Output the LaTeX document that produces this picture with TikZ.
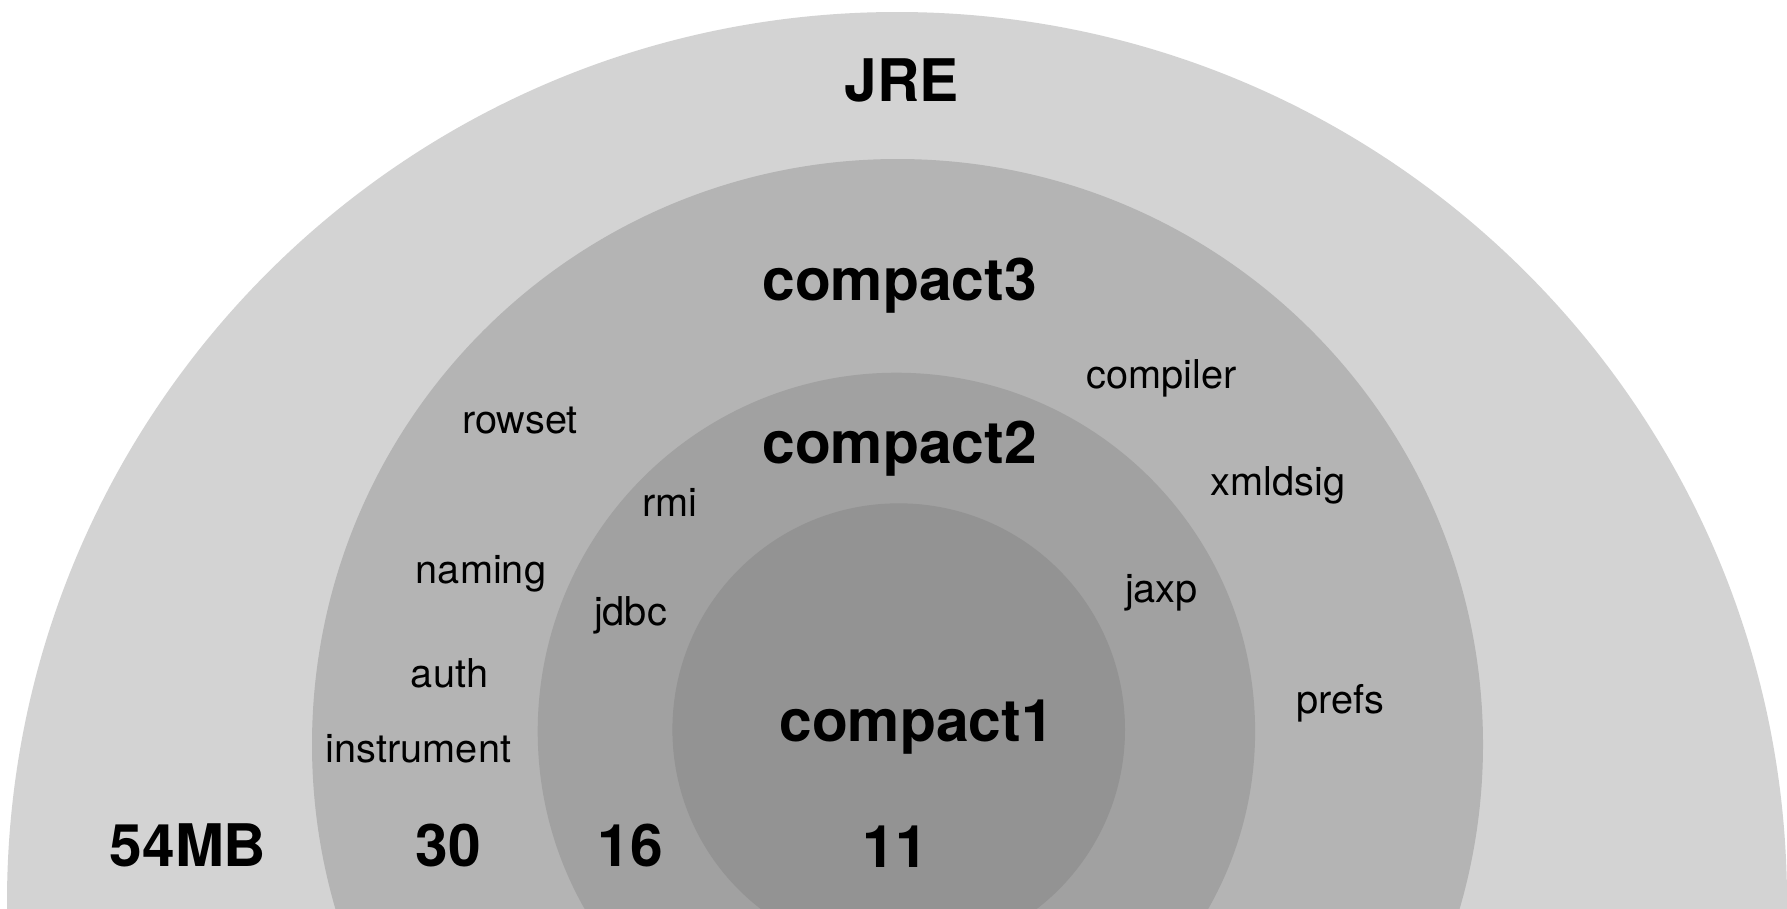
\documentclass[tikz,border=0pt]{standalone}
\usepackage{fontspec}
\setmainfont{TeX Gyre Heros}
\usepackage{tikz}
\definecolor{JreGray}{RGB}{211,211,211}
\definecolor{CompactThreeGray}{RGB}{180,180,180}
\definecolor{CompactTwoGray}{RGB}{161,161,161}
\definecolor{CompactOneGray}{RGB}{147,147,147}
\tikzset{
  profile/.style={anchor=base,inner sep=0pt,
    font=\fontsize{16.7}{18}\selectfont\bfseries},
  package/.style={anchor=base,inner sep=0pt,
    font=\fontsize{11.3}{13}\selectfont},
  size/.style={profile}
}

\begin{document}
\begin{tikzpicture}
  \useasboundingbox (0,0) rectangle (17.87,9.08);
  \clip (0,0) rectangle (17.87,9.08);
  % profile rings
  \fill[JreGray] (8.97,0.06) circle (8.90);
  \fill[CompactThreeGray] (8.975,1.635) circle (5.855);
  \fill[CompactTwoGray] (8.964,1.766) circle (3.587);
  \fill[CompactOneGray] (8.987,1.784) circle (2.263);
  % profile names
  \node[profile] (jre) at (9.015,8.07) {JRE};
  \node[profile] (compact3) at (8.995,6.073) {compact3};
  \node[profile] (compact2) at (8.995,4.447) {compact2};
  \node[profile] (compact1) at (9.165,1.67) {compact1};
  % packages
  \node[package] (compiler) at (11.615,5.197) {compiler};
  \node[package] (rowset) at (5.20,4.75) {rowset};
  \node[package] (xmldsig) at (12.78,4.13) {xmldsig};
  \node[package] (rmi) at (6.70,3.913) {rmi};
  \node[package] (naming) at (4.81,3.247) {naming};
  \node[package] (jaxp) at (11.615,3.06) {jaxp};
  \node[package] (jdbc) at (6.305,2.823) {jdbc};
  \node[package] (auth) at (4.495,2.21) {auth};
  \node[package] (prefs) at (13.40,1.95) {prefs};
  \node[package] (instrument) at (4.185,1.46) {instrument};
  % sizes
  \node[size] (jresize) at (1.88,0.42) {54MB};
  \node[size] (c3size) at (4.48,0.42) {30};
  \node[size] (c2size) at (6.305,0.42) {16};
  \node[size] (c1size) at (8.955,0.41) {11};
\end{tikzpicture}
\end{document}
